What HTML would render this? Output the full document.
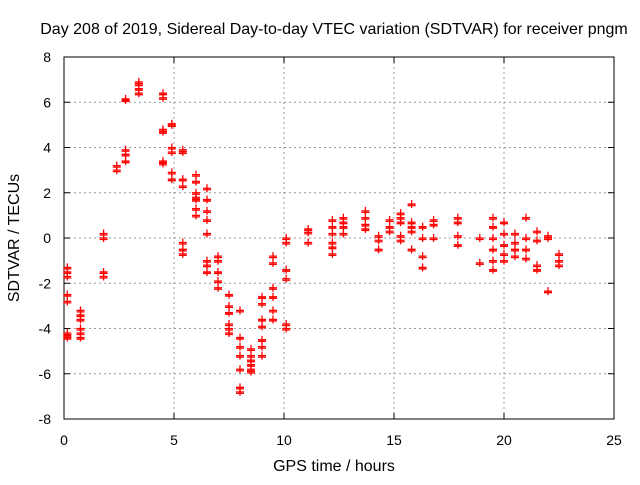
<!DOCTYPE html>
<html><head><meta charset="utf-8"><style>
body{margin:0;background:#fff;font-family:"Liberation Sans",sans-serif}
</style></head><body>
<svg id="c" width="640" height="480" font-family="Liberation Sans, sans-serif" font-size="14">
<rect width="640" height="480" fill="#fff"/>
<text x="334" y="34" text-anchor="middle" font-size="16">Day 208 of 2019, Sidereal Day-to-day VTEC variation (SDTVAR) for receiver pngm</text>
<g id="grid"></g>
<g id="ticks"></g>
<rect x="64" y="57" width="550" height="362" fill="none" stroke="#000"/>
<g id="pts"></g>
<text x="334" y="471" text-anchor="middle" font-size="16">GPS time / hours</text>
<text transform="translate(19,238) rotate(-90)" text-anchor="middle" font-size="16">SDTVAR / TECUs</text>
</svg>
<script>
const xTicks=[0,5,10,15,20,25];
const yTicks=[-8,-6,-4,-2,0,2,4,6,8];
const ptX=[0.15,0.15,0.15,0.15,0.15,0.15,0.15,0.15,0.75,0.75,0.75,0.75,0.75,0.75,1.8,1.8,1.8,1.8,2.4,2.4,2.8,2.8,2.8,2.8,2.8,3.4,3.4,3.4,3.4,4.5,4.5,4.5,4.5,4.5,4.5,4.9,4.9,4.9,4.9,4.9,4.9,5.4,5.4,5.4,5.4,5.4,5.4,5.4,6.0,6.0,6.0,6.0,6.0,6.0,6.0,6.5,6.5,6.5,6.5,6.5,6.5,6.5,6.5,7.0,7.0,7.0,7.0,7.0,7.5,7.5,7.5,7.5,7.5,7.5,8.0,8.0,8.0,8.0,8.0,8.0,8.0,8.5,8.5,8.5,8.5,8.5,8.5,9.0,9.0,9.0,9.0,9.0,9.0,9.0,9.5,9.5,9.5,9.5,9.5,9.5,10.1,10.1,10.1,10.1,10.1,10.1,11.1,11.1,11.1,12.2,12.2,12.2,12.2,12.2,12.2,12.7,12.7,12.7,12.7,13.7,13.7,13.7,13.7,14.3,14.3,14.3,14.8,14.8,14.8,15.3,15.3,15.3,15.3,15.3,15.8,15.8,15.8,15.8,15.8,16.3,16.3,16.3,16.3,16.8,16.8,16.8,17.9,17.9,17.9,17.9,18.9,18.9,19.5,19.5,19.5,19.5,19.5,19.5,20.0,20.0,20.0,20.0,20.0,20.5,20.5,20.5,20.5,21.0,21.0,21.0,21.0,21.5,21.5,21.5,21.5,22.0,22.0,22.0,22.5,22.5,22.5];
const ptY=[-1.3,-1.5,-1.7,-2.5,-2.8,-4.2,-4.3,-4.4,-3.2,-3.4,-3.6,-4.0,-4.2,-4.4,-1.5,-1.7,0.0,0.2,3.0,3.2,3.4,3.7,3.9,6.1,6.15,6.4,6.6,6.8,6.9,6.2,6.4,4.7,4.8,3.3,3.4,5.0,5.05,3.8,4.0,2.6,2.9,3.8,3.9,2.3,2.6,-0.2,-0.5,-0.7,2.8,2.5,2.0,1.7,1.3,1.0,1.8,2.2,1.7,1.2,0.8,0.2,-1.0,-1.2,-1.5,-0.8,-1.0,-1.5,-1.9,-2.2,-2.5,-3.0,-3.3,-3.8,-4.0,-4.2,-3.2,-4.4,-4.8,-5.2,-5.8,-6.6,-6.8,-4.9,-5.2,-5.4,-5.6,-5.8,-5.9,-2.6,-2.9,-3.6,-3.9,-4.5,-4.8,-5.2,-0.8,-1.1,-2.2,-2.6,-3.2,-3.6,0.0,-0.2,-1.4,-1.8,-3.8,-4.0,0.4,0.25,-0.2,0.8,0.5,0.2,-0.2,-0.4,-0.7,0.2,0.5,0.7,0.9,0.4,0.6,0.9,1.2,0.1,-0.1,-0.5,0.3,0.5,0.8,1.1,0.9,0.7,0.1,-0.1,1.5,0.7,0.5,0.3,-0.5,0.5,0.0,-0.8,-1.3,0.8,0.6,0.0,0.9,0.7,0.1,-0.3,0.0,-1.1,0.9,0.5,0.0,-0.5,-1.0,-1.4,0.7,0.2,-0.3,-0.7,-1.0,0.2,-0.2,-0.5,-0.8,0.9,0.0,-0.5,-0.9,0.3,-0.1,-1.2,-1.4,0.0,0.1,-2.35,-0.7,-1.0,-1.2];
const NS="http://www.w3.org/2000/svg";
const X0=64,X1=614,Y0=419,Y1=57;
const sx=v=>X0+(v-0)/(25-0)*(X1-X0);
const sy=v=>Y0-(v+8)/16*(Y0-Y1);
function mk(t,a){const e=document.createElementNS(NS,t);for(const k in a)e.setAttribute(k,a[k]);return e;}
const grid=document.getElementById('grid'),ticks=document.getElementById('ticks'),pts=document.getElementById('pts');
xTicks.forEach(v=>{const x=sx(v);
 if(v>0&&v<25){const g=mk('line',{x1:x,x2:x,y1:Y1,y2:Y0,stroke:'#999','stroke-dasharray':'2,3'});grid.appendChild(g);}
 ticks.appendChild(mk('line',{x1:x,x2:x,y1:Y0,y2:Y0-6,stroke:'#000'}));
 ticks.appendChild(mk('line',{x1:x,x2:x,y1:Y1,y2:Y1+6,stroke:'#000'}));
 const t=mk('text',{x:x,y:445,'text-anchor':'middle'});t.textContent=v;
 
 
 ticks.appendChild(t);});
yTicks.forEach(v=>{const y=sy(v);
 if(v>-8&&v<8){const g=mk('line',{x1:X0,x2:X1,y1:y,y2:y,stroke:'#999','stroke-dasharray':'2,3'});grid.appendChild(g);}
 ticks.appendChild(mk('line',{x1:X0,x2:X0+6,y1:y,y2:y,stroke:'#000'}));
 ticks.appendChild(mk('line',{x1:X1,x2:X1-6,y1:y,y2:y,stroke:'#000'}));
 const t=mk('text',{x:51,y:y+5,'text-anchor':'end'});t.textContent=v;
 
 
 ticks.appendChild(t);});
ptX.forEach((xv,i)=>{const x=sx(xv),y=sy(ptY[i]);
 const p=mk('path',{d:`M${x-4},${y}h8M${x},${y-4}v8M${x-4},${y+1.5}h8`,stroke:'#f00','stroke-width':1.3,fill:'none'});
 
 
 pts.appendChild(p);});
</script>
</body></html>
